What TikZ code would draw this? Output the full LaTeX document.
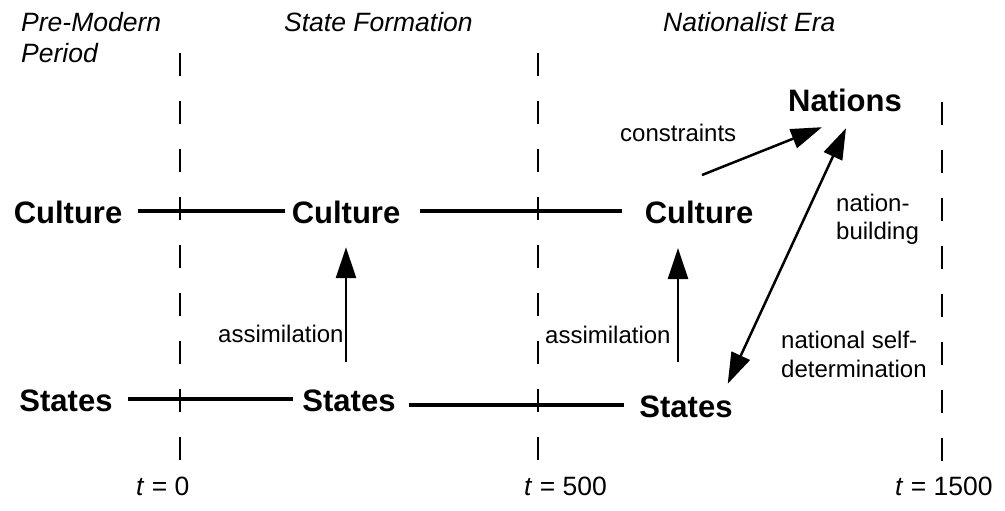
\documentclass[tikz,border=0pt]{standalone}
\usepackage{fontspec}
\setmainfont{Liberation Sans}
\usetikzlibrary{arrows.meta,calc}
\begin{document}
\begin{tikzpicture}[x=1pt,y=-1pt,
 big/.style={font=\fontsize{31}{34}\selectfont\bfseries, inner sep=0pt, text height=24pt, text depth=0pt, anchor=base},
 lbl/.style={font=\fontsize{24}{29}\selectfont, inner sep=0pt, anchor=base west},
 hdr/.style={lbl, font=\fontsize{26.5}{31}\selectfont\itshape},
 tlbl/.style={lbl, font=\fontsize{26.5}{31}\selectfont},
 bar/.style={line width=4pt},
 arr/.style={line width=2.5pt, -{Triangle[length=31pt,width=20pt]}},
 dbl/.style={line width=2.5pt, {Triangle[length=31pt,width=20pt]}-{Triangle[length=31pt,width=20pt]}},
 era/.style={line width=2pt, dash pattern=on 23pt off 25pt}]
\useasboundingbox (0,0) rectangle (1005,511);

% era boundaries
\draw[era] (180,53) -- (180,460);
\draw[era] (538,53) -- (538,460);
\draw[era] (942,102) -- (942,461);

% headers
\node[hdr] (h1) at (21,32) {Pre-Modern};
\node[hdr] (h1b) at (21,63) {Period};
\node[hdr] (h2) at (284,32) {State Formation};
\node[hdr] (h3) at (663,32) {Nationalist Era};

% main nodes
\node[big] (c1) at (68,223) {Culture};
\node[big] (c2) at (346,223) {Culture};
\node[big] (c3) at (699,223) {Culture};
\node[big] (s1) at (66,411) {States};
\node[big] (s2) at (349,411) {States};
\node[big] (s3) at (686,417) {States};
\node[big] (nat) at (845,112) {Nations};

% horizontal bars
\draw[bar, shorten <=16pt, shorten >=7pt] (c1.east) -- (c2.west);
\draw[bar, shorten <=20pt, shorten >=23pt] (c2.east) -- (c3.west);
\draw[bar, shorten <=15pt, shorten >=9pt] (s1.east) -- (s2.west);
\draw[bar, shorten <=13pt, shorten >=15pt] (s2.east |- s3.west) -- (s3.west);

% assimilation arrows
\draw[arr, shorten <=25pt, shorten >=24pt] (c2.south |- s2.north) -- (c2.south);
\coordinate (a2b) at (678,362);
\coordinate (a2t) at (678,248);
\draw[arr] (a2b) -- (a2t);

% constraints arrow
\coordinate (cst) at (702,175);
\draw[arr] (cst) -- ([shift={(34,15)}]nat.south west);

% nation-building / self-determination
\draw[dbl] ([shift={(1,16)}]nat.south) -- ([shift={(-5,-9)}]s3.north east);

% labels
\node[lbl] (lc) at (620,142) {constraints};
\node[lbl] (la1) at (218,342) {assimilation};
\node[lbl] (la2) at (545,343) {assimilation};
\node[lbl] (lnb1) at (836,211) {nation-};
\node[lbl] (lnb2) at (836,239) {building};
\node[lbl] (lsd1) at (781,348) {national self-};
\node[lbl] (lsd2) at (781,377) {determination};

% time labels
\node[tlbl] (t0) at (136,495) {\textit{t} = 0};
\node[tlbl] (t1) at (524,495) {\textit{t} = 500};
\node[tlbl] (t2) at (895,495) {\textit{t} = 1500};
\end{tikzpicture}
\end{document}
